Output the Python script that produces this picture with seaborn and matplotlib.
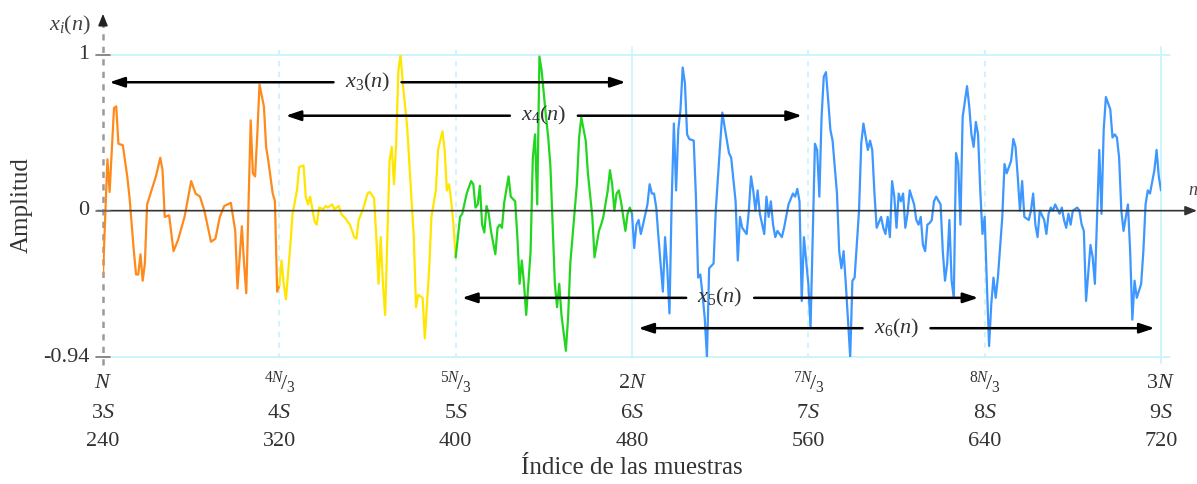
import numpy as np
import pandas as pd
import matplotlib
matplotlib.use("Agg")
import matplotlib.pyplot as plt
import seaborn as sns

# ---- signal segments: sample index n and amplitude ----
n_naranja = [240, 242, 243, 245, 246, 247, 249, 251, 252, 254, 255, 256, 257, 258, 259,
             260, 262, 264, 266, 267, 268, 270, 272, 274, 277, 280, 282, 284, 286, 289,
             291, 293, 295, 298, 300, 301, 303, 304, 305, 307, 308, 309, 310, 311, 313,
             314, 315, 317, 318, 319, 320]
a_naranja = [-0.41, 0.33, 0.12, 0.66, 0.67, 0.43, 0.42, 0.22, 0.09, -0.26, -0.41, -0.41, -0.28, -0.45, -0.34,
             0.04, 0.13, 0.22, 0.34, 0.26, -0.04, -0.03, -0.26, -0.19, -0.04, 0.19, 0.11, 0.09, 0.0, -0.20,
             -0.18, -0.04, 0.03, 0.05, -0.13, -0.50, -0.10, -0.34, -0.53, 0.58, 0.24, 0.22, 0.49, 0.81, 0.67,
             0.41, 0.32, 0.11, 0.06, -0.52, -0.48]

n_amarillo = [320, 321, 322, 323, 325, 326, 328, 329, 331, 332, 333, 334, 336, 337, 338,
              340, 341, 342, 344, 345, 347, 348, 350, 352, 354, 355, 356, 358, 360, 361,
              363, 364, 365, 366, 367, 368, 370, 371, 372, 373, 374, 375, 376, 378, 379,
              381, 382, 383, 385, 386, 388, 389, 391, 392, 394, 395, 396, 397, 398, 399, 400]
a_amarillo = [-0.48, -0.32, -0.47, -0.57, -0.22, -0.02, 0.13, 0.28, 0.29, 0.09, 0.04, 0.09, -0.07, -0.09, 0.02,
              0.01, 0.03, 0.02, 0.04, 0.01, 0.03, -0.02, -0.05, -0.09, -0.17, -0.18, -0.06, 0.01, 0.11, 0.12,
              0.08, -0.17, -0.47, -0.17, -0.47, -0.67, 0.32, 0.41, 0.17, 0.43, 0.90, 1.0, 0.82, 0.54, 0.30,
              -0.17, -0.62, -0.54, -0.56, -0.82, -0.37, -0.04, 0.13, 0.39, 0.51, 0.39, 0.13, 0.17, 0.06, -0.09, -0.30]

n_verde = [400, 402, 403, 405, 407, 408, 409, 410, 411, 412, 413, 414, 415, 416, 418,
           419, 420, 421, 422, 424, 425, 427, 428, 429, 430, 431, 432, 434, 435, 436,
           437, 438, 439, 441, 442, 443, 444, 445, 446, 447, 448, 450, 451, 452, 453,
           455, 456, 457, 459, 460, 462, 463, 465, 466, 467, 469, 470, 471, 472, 473,
           474, 475, 477, 478, 479, 480]
a_verde = [-0.30, -0.04, -0.02, 0.11, 0.19, 0.17, 0.02, 0.04, 0.16, -0.09, -0.14, 0.03, -0.02, -0.13, -0.28,
           -0.11, -0.09, -0.11, 0.05, 0.22, 0.09, 0.06, -0.17, -0.47, -0.32, -0.47, -0.67, -0.26, 0.34, 0.49,
           0.04, 0.99, 0.90, 0.60, 0.47, 0.28, -0.09, -0.47, -0.62, -0.47, -0.67, -0.90, -0.69, -0.34, -0.17,
           0.17, 0.47, 0.60, 0.45, 0.24, -0.04, -0.30, -0.13, -0.09, -0.04, 0.13, 0.26, 0.17, 0.0, 0.11,
           0.13, 0.06, -0.13, -0.02, 0.02, -0.02]

n_azul = [480, 481, 482, 483, 484, 485, 487, 488, 489, 490, 491, 492, 494, 495, 496,
          497, 498, 499, 500, 501, 502, 503, 504, 505, 506, 508, 509, 510, 511, 512,
          513, 514, 515, 517, 518, 520, 521, 522, 524, 525, 527, 528, 529, 530, 532,
          533, 534, 535, 536, 537, 538, 540, 541, 542, 543, 544, 545, 546, 548, 549,
          551, 553, 554, 555, 556, 557, 558, 560, 561, 562, 563, 564, 565, 566, 567,
          568, 569, 570, 571, 573, 574, 575, 576, 577, 579, 580, 581, 583, 584, 585,
          587, 588, 589, 590, 591, 593, 594, 595, 596, 597, 598, 599, 600, 601, 602,
          603, 604, 605, 606, 608, 609, 610, 611, 612, 613, 614, 615, 616, 617, 618,
          620, 621, 622, 623, 624, 625, 626, 627, 628, 629, 630, 632, 633, 634, 635,
          636, 637, 638, 639, 640, 641, 642, 643, 644, 645, 646, 648, 649, 650, 652,
          653, 654, 655, 656, 657, 658, 660, 661, 662, 663, 664, 665, 667, 668, 669,
          670, 671, 672, 674, 675, 676, 677, 678, 679, 680, 682, 683, 684, 685, 686,
          688, 689, 690, 691, 692, 693, 694, 695, 697, 698, 699, 700, 701, 702, 703,
          705, 706, 707, 708, 709, 711, 712, 713, 714, 715, 717, 718, 719, 720]
a_azul = [-0.02, -0.24, -0.09, -0.06, -0.15, -0.09, 0.04, 0.17, 0.11, 0.11, 0.02, -0.17, -0.52, -0.17, -0.37,
          -0.66, 0.06, 0.56, 0.13, 0.52, 0.65, 0.92, 0.82, 0.49, 0.46, 0.45, 0.09, -0.43, -0.41, -0.54,
          -0.69, -0.94, -0.37, -0.34, 0.0, 0.43, 0.63, 0.54, 0.37, 0.34, 0.06, -0.32, -0.04, -0.11, -0.15,
          0.0, 0.22, 0.13, 0.0, 0.13, -0.02, -0.15, 0.09, -0.04, 0.06, -0.09, -0.17, -0.13, -0.17, -0.11,
          0.04, 0.11, 0.09, 0.14, 0.06, -0.58, -0.17, -0.47, -0.75, -0.15, 0.43, 0.39, 0.09, 0.60, 0.86,
          0.89, 0.71, 0.52, 0.45, 0.11, -0.26, -0.37, -0.26, -0.47, -0.94, -0.45, -0.43, 0.0, 0.43, 0.56,
          0.39, 0.45, 0.39, 0.11, -0.11, -0.04, -0.11, -0.15, -0.04, -0.17, 0.19, 0.09, -0.11, 0.11, 0.06,
          0.11, -0.11, -0.02, 0.13, 0.04, -0.06, -0.09, -0.04, -0.22, -0.26, -0.09, -0.08, -0.06, 0.06, 0.09,
          0.04, -0.26, -0.45, -0.34, -0.06, -0.45, -0.56, 0.37, 0.30, -0.09, 0.60, 0.80, 0.67, 0.49, 0.41,
          0.57, 0.49, 0.13, -0.15, -0.04, -0.47, -0.87, -0.60, -0.43, -0.56, -0.43, -0.04, 0.30, 0.24, 0.32,
          0.46, 0.41, 0.22, 0.0, 0.19, -0.04, -0.06, 0.0, 0.11, -0.09, -0.17, 0.0, -0.06, -0.15, -0.02,
          0.02, 0.0, 0.04, -0.02, 0.02, -0.06, -0.11, -0.02, -0.09, 0.0, 0.02, 0.0, -0.09, -0.13, -0.58,
          -0.22, -0.30, -0.47, -0.04, 0.39, -0.02, 0.52, 0.73, 0.65, 0.47, 0.49, 0.47, 0.34, 0.0, -0.13,
          0.04, -0.26, -0.70, -0.45, -0.56, -0.47, -0.26, 0.04, 0.13, 0.11, 0.26, 0.39, 0.22, 0.13]

colores = {"naranja": "#ff8a1c", "amarillo": "#ffe600", "verde": "#22d61f", "azul": "#3d97ff"}

# ---- axes ticks ----
y_ticks = [1, 0, -0.94]
y_tick_labels = ["1", "0", "-0.94"]
x_ticks = [240, 320, 400, 480, 560, 640, 720]
fila_N = [r"$N$", r"${}^{4N}\!/_{3}$", r"${}^{5N}\!/_{3}$", r"$2N$",
          r"${}^{7N}\!/_{3}$", r"${}^{8N}\!/_{3}$", r"$3N$"]
fila_S = [r"$3S$", r"$4S$", r"$5S$", r"$6S$", r"$7S$", r"$8S$", r"$9S$"]
fila_idx = ["240", "320", "400", "480", "560", "640", "720"]

# ---- window spans x_3..x_6 (start, end, level, label) ----
ventanas_ini = [240, 320, 400, 480]
ventanas_fin = [480, 560, 640, 720]
ventanas_y = [0.825, 0.61, -0.56, -0.755]
ventanas_lbl = [r"$x_3(n)$", r"$x_4(n)$", r"$x_5(n)$", r"$x_6(n)$"]

# ---- build long-form table for seaborn ----
partes = []
for nombre, nn, aa in [("naranja", n_naranja, a_naranja), ("amarillo", n_amarillo, a_amarillo),
                       ("verde", n_verde, a_verde), ("azul", n_azul, a_azul)]:
    partes.append(pd.DataFrame({"n": nn, "amplitud": aa, "segmento": nombre}))
df = pd.concat(partes, ignore_index=True)

sns.set_style("white")
plt.rcParams["font.family"] = ["Liberation Serif", "DejaVu Serif"]
plt.rcParams["mathtext.fontset"] = "custom"
plt.rcParams["mathtext.rm"] = "Liberation Serif"
plt.rcParams["mathtext.it"] = "Liberation Serif:italic"

FS_TICK = 16
FS_LBL = 18

W, H = 1197, 484
fig = plt.figure(figsize=(W / 100, H / 100), dpi=100, facecolor="white")
# plot area: n 240..720 -> px 103..1161, amplitude -0.94..1 -> px 357..55
ax = fig.add_axes([103 / W, (H - 357) / H, 1058 / W, 302 / H])
ax.set_xlim(240, 720)
ax.set_ylim(-0.94, 1)
for s in ax.spines.values():
    s.set_visible(False)
ax.set_xticks([])
ax.set_yticks([])
ax.set_facecolor("none")

dx = 480 / 1058   # data per pixel
dy = 1.94 / 302

cian = "#c9f5fb"
# frame / grid
ax.plot([240, 724], [1, 1], color=cian, lw=1.3, clip_on=False, zorder=1)
ax.plot([240, 724], [-0.94, -0.94], color=cian, lw=1.3, clip_on=False, zorder=1)
ax.plot([720, 720], [1.05, -0.98], color=cian, lw=1.3, clip_on=False, zorder=1)
ax.plot([480, 480], [1.05, -0.94], color=cian, lw=1.2, clip_on=False, zorder=1)
for xv in [320, 400, 560, 640]:
    ax.plot([xv, xv], [1.03, -0.94], color=cian, lw=1.3, ls=(0, (3, 3)), clip_on=False, zorder=1)

# signal
sns.lineplot(data=df, x="n", y="amplitud", hue="segmento", palette=colores,
             sort=False, estimator=None, legend=False, lw=1.6, ax=ax, zorder=3)
ax.set_xlabel("")
ax.set_ylabel("")
ax.set_xlim(240, 720)
ax.set_ylim(-0.94, 1)

# vertical axis (dashed) with arrow
ax.plot([240, 240], [-0.99, 1.2], color="#9a9a9a", lw=1.8, ls=(0, (2.5, 2.5)), clip_on=False, zorder=2)
ax.annotate("", xy=(240, 1.265), xytext=(240, 1.19), annotation_clip=False,
            arrowprops=dict(arrowstyle="-|>,head_length=0.5,head_width=0.2", color="#222222",
                            lw=1.2, mutation_scale=14, shrinkA=0, shrinkB=0), zorder=4)
# horizontal axis with arrow
ax.annotate("", xy=(240 + 1094 * dx, 0), xytext=(240 - 6 * dx, 0), annotation_clip=False,
            arrowprops=dict(arrowstyle="-|>,head_length=0.5,head_width=0.2", color="#333333",
                            lw=1.2, mutation_scale=14, shrinkA=0, shrinkB=0), zorder=4)
ax.text(240 + 1095 * dx, 20 * dy, r"$n$", fontsize=13, ha="right", va="center",
        color="#444444", clip_on=False)
ax.text(240 - 12 * dx, 1.19, r"$x_i(n)$", fontsize=FS_TICK, ha="right", va="center",
        color="#444444", clip_on=False)

# y ticks "+" marks and labels
for yv, lbl in zip(y_ticks, y_tick_labels):
    ax.plot([240 - 7 * dx, 240 + 7 * dx], [yv, yv], color="#777777", lw=1.2, clip_on=False, zorder=4)
    ax.text(240 - 14 * dx, yv, lbl, fontsize=FS_TICK, ha="right", va="center", color="#333333", clip_on=False)

# x tick label rows
tr = ax.get_xaxis_transform()
for xv, a, b, c in zip(x_ticks, fila_N, fila_S, fila_idx):
    ax.text(xv, -26 / 302, a, transform=tr, fontsize=FS_TICK, ha="center", va="center", color="#333333")
    ax.text(xv, -56 / 302, b, transform=tr, fontsize=FS_TICK, ha="center", va="center", color="#333333")
    ax.text(xv, -85 / 302, c, transform=tr, fontsize=FS_TICK, ha="center", va="center", color="#333333")

fig.text(632 / W, 1 - 468 / H, "Índice de las muestras", fontsize=FS_LBL, ha="center", va="center",
         color="#333333")
fig.text(22 / W, 1 - 205 / H, "Amplitud", fontsize=FS_LBL, rotation=90, ha="center", va="center",
         color="#333333")

# window arrows with centred labels
flecha = dict(arrowstyle="-|>,head_length=0.6,head_width=0.2", color="black", lw=1.8,
              mutation_scale=15, shrinkA=0, shrinkB=0)
medio_hueco = 34 * dx
for ini, fin, yv, lbl in zip(ventanas_ini, ventanas_fin, ventanas_y, ventanas_lbl):
    centro = (ini + fin) / 2
    ax.annotate("", xy=(ini + 4 * dx * 1.6, yv), xytext=(centro - medio_hueco, yv),
                arrowprops=flecha, annotation_clip=False, zorder=5)
    ax.annotate("", xy=(fin - 4 * dx * 1.6, yv), xytext=(centro + medio_hueco, yv),
                arrowprops=flecha, annotation_clip=False, zorder=5)
    ax.text(centro, yv, lbl, fontsize=FS_TICK, ha="center", va="center", color="#333333", zorder=6)

fig.savefig("out.png", dpi=100, facecolor="white")
